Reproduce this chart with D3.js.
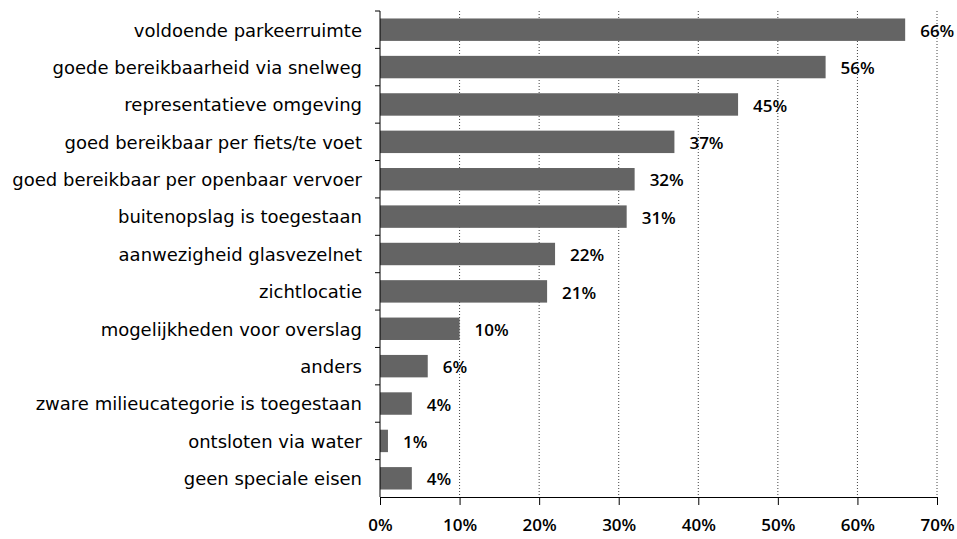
<!DOCTYPE html>
<html>
<head>
<meta charset="utf-8">
<script src="https://cdn.jsdelivr.net/npm/d3@7"></script>
<style>
  body { margin: 0; background: #fff; }
  svg { display: block; }
  .cat text { font-family: "DejaVu Sans", sans-serif; font-size: 18px; fill: #000; }
  .xax text { font-family: "Open Sans", sans-serif; font-size: 17px; font-weight: 600; fill: #000; }
  .val { font-family: "Open Sans", sans-serif; font-size: 17px; font-weight: 600; fill: #000; }
</style>
</head>
<body>
<div id="graph"></div>
<script>
const categories = [
  "voldoende parkeerruimte",
  "goede bereikbaarheid via snelweg",
  "representatieve omgeving",
  "goed bereikbaar per fiets/te voet",
  "goed bereikbaar per openbaar vervoer",
  "buitenopslag is toegestaan",
  "aanwezigheid glasvezelnet",
  "zichtlocatie",
  "mogelijkheden voor overslag",
  "anders",
  "zware milieucategorie is toegestaan",
  "ontsloten via water",
  "geen speciale eisen"
];
const values = [66, 56, 45, 37, 32, 31, 22, 21, 10, 6, 4, 1, 4];
const xTicks = [0, 10, 20, 30, 40, 50, 60, 70];

const width = 957, height = 539;
const margin = {top: 11, right: 20, bottom: 42, left: 380};

let svg = d3.select("#graph")
    .append("svg")
    .attr("width", width)
    .attr("height", height);

let x = d3.scaleLinear()
    .domain([0, 70])
    .range([margin.left, 937]);

let y = d3.scaleBand()
    .domain(categories)
    .range([margin.top, height - margin.bottom])
    .paddingInner(0.4)
    .paddingOuter(0.2);

// dotted gridlines
svg.append("g")
    .selectAll("line")
    .data(xTicks.slice(1))
    .join("line")
    .attr("x1", d => x(d)).attr("x2", d => x(d))
    .attr("y1", margin.top).attr("y2", height - margin.bottom)
    .attr("stroke", "#444")
    .attr("stroke-width", 1)
    .attr("stroke-dasharray", "1,2");

// bars
svg.append("g")
    .selectAll("rect")
    .data(values)
    .join("rect")
    .attr("x", x(0))
    .attr("y", (d, i) => y(categories[i]))
    .attr("width", d => x(d) - x(0))
    .attr("height", y.bandwidth())
    .attr("fill", "#646464");

// value labels
svg.append("g")
    .selectAll("text")
    .data(values)
    .join("text")
    .attr("class", "val")
    .attr("x", d => x(d) + 15)
    .attr("y", (d, i) => y(categories[i]) + y.bandwidth() / 2)
    .attr("dy", "0.42em")
    .text(d => d + "%");

// y axis: ticks at band boundaries
let yAxis = svg.append("g").attr("class", "cat");
yAxis.append("line")
    .attr("x1", x(0)).attr("x2", x(0))
    .attr("y1", margin.top).attr("y2", height - margin.bottom)
    .attr("stroke", "#000");
let bounds = d3.range(categories.length).map(i => margin.top + i * (height - margin.top - margin.bottom) / categories.length);
yAxis.selectAll("line.tk")
    .data(bounds)
    .join("line")
    .attr("class", "tk")
    .attr("x1", x(0) - 5).attr("x2", x(0))
    .attr("y1", d => d).attr("y2", d => d)
    .attr("stroke", "#000");
yAxis.selectAll("text")
    .data(categories)
    .join("text")
    .attr("x", 362)
    .attr("y", d => y(d) + y.bandwidth() / 2)
    .attr("dy", "0.38em")
    .attr("text-anchor", "end")
    .text(d => d);

// x axis
let xAxis = svg.append("g")
    .attr("class", "xax")
    .attr("transform", `translate(0, ${height - margin.bottom})`)
    .call(d3.axisBottom(x).tickValues(xTicks).tickFormat(d => d + "%").tickSize(8).tickSizeOuter(0).tickPadding(14));
xAxis.select(".domain").attr("stroke", "#000");
xAxis.selectAll(".tick line").attr("stroke", "#000");
</script>
</body>
</html>
